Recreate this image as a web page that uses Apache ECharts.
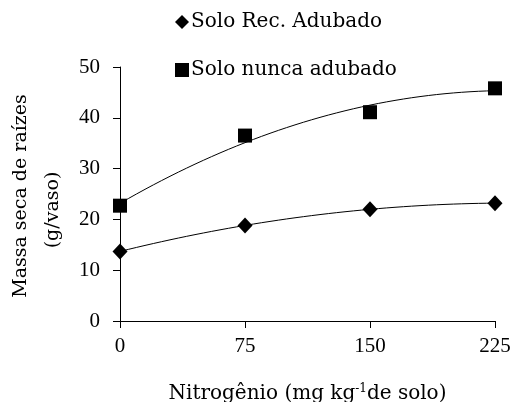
<!DOCTYPE html>
<html>
<head>
<meta charset="utf-8">
<script src="https://cdn.jsdelivr.net/npm/echarts@6/dist/echarts.min.js"></script>
<style>
  html, body { margin: 0; padding: 0; background: #fff; }
  #chart { width: 515px; height: 402px; }
</style>
</head>
<body>
<div id="chart"></div>
<script>
// dados
const doses = [0, 75, 150, 225]
const soloRec = [13.7, 18.8, 22.0, 23.2]
const soloNunca = [22.7, 36.5, 41.1, 45.8]
const yTicks = [0, 10, 20, 30, 40, 50]
const xTicks = [0, 75, 150, 225]

const FONT = 'DejaVu Serif'
const NUM_FONT = 'Liberation Serif'

// linha de tendência polinomial (grau 2), ajustada por mínimos quadrados
function polyFit2(xs, ys) {
  let s = [0, 0, 0, 0, 0], t = [0, 0, 0]
  xs.forEach((x, i) => {
    for (let k = 0; k < 5; k++) s[k] += Math.pow(x, k)
    for (let k = 0; k < 3; k++) t[k] += Math.pow(x, k) * ys[i]
  })
  const m = [[s[0], s[1], s[2], t[0]], [s[1], s[2], s[3], t[1]], [s[2], s[3], s[4], t[2]]]
  for (let c = 0; c < 3; c++) {
    for (let r = c + 1; r < 3; r++) {
      const f = m[r][c] / m[c][c]
      for (let k = c; k < 4; k++) m[r][k] -= f * m[c][k]
    }
  }
  const a = [0, 0, 0]
  for (let r = 2; r >= 0; r--) {
    let v = m[r][3]
    for (let k = r + 1; k < 3; k++) v -= m[r][k] * a[k]
    a[r] = v / m[r][r]
  }
  return x => a[0] + a[1] * x + a[2] * x * x
}

function trend(ys) {
  const f = polyFit2(doses, ys)
  const out = []
  for (let x = doses[0]; x <= doses[doses.length - 1]; x += 5) out.push([x, f(x)])
  return out
}

const chart = echarts.init(document.getElementById('chart'))
chart.setOption({
  animation: false,
  textStyle: { fontFamily: FONT, color: '#000' },
  grid: { left: 120, right: 20, top: 67, bottom: 81, containLabel: false, outerBoundsMode: 'none' },
  legend: {
    orient: 'vertical',
    left: 170,
    top: 7,
    itemGap: 28,
    itemWidth: 14,
    itemHeight: 14,
    textStyle: { fontFamily: FONT, fontSize: 20, color: '#000', padding: [0, 0, 0, -3] },
    data: [
      { name: 'Solo Rec. Adubado', icon: 'diamond' },
      { name: 'Solo nunca adubado', icon: 'rect' }
    ]
  },
  xAxis: {
    type: 'value',
    min: 0,
    max: 225,
    interval: 75,
    splitLine: { show: false },
    axisLine: { lineStyle: { color: '#000', width: 1 } },
    axisTick: { show: true, length: 7, lineStyle: { color: '#000' } },
    axisLabel: { fontFamily: NUM_FONT, fontSize: 21, color: '#000', margin: 15, customValues: xTicks },
    name: '{a|Nitrogênio (mg kg}{s|-1}{a|de solo)}',
    nameLocation: 'middle',
    nameGap: 62,
    nameTextStyle: {
      rich: {
        a: { fontFamily: FONT, fontSize: 20, color: '#000' },
        s: { fontFamily: FONT, fontSize: 12, color: '#000', verticalAlign: 'top', padding: [0, 0, 9, 0] }
      }
    }
  },
  yAxis: {
    type: 'value',
    min: 0,
    max: 50,
    interval: 10,
    splitLine: { show: false },
    axisLine: { show: true, lineStyle: { color: '#000', width: 1 } },
    axisTick: { show: true, length: 7, lineStyle: { color: '#000' } },
    axisLabel: { fontFamily: NUM_FONT, fontSize: 21, color: '#000', margin: 20, customValues: yTicks }
  },
  graphic: [
    {
      type: 'text', x: 21, y: 196, rotation: Math.PI / 2,
      style: { text: 'Massa seca de raízes', font: '19px "DejaVu Serif"', fill: '#000', align: 'center', verticalAlign: 'middle' }
    },
    {
      type: 'text', x: 53, y: 210, rotation: Math.PI / 2,
      style: { text: '(g/vaso)', font: '19px "DejaVu Serif"', fill: '#000', align: 'center', verticalAlign: 'middle' }
    }
  ],
  series: [
    {
      type: 'line', data: trend(soloRec), showSymbol: false, silent: true,
      lineStyle: { color: '#000', width: 1 }, z: 1
    },
    {
      type: 'line', data: trend(soloNunca), showSymbol: false, silent: true,
      lineStyle: { color: '#000', width: 1 }, z: 1
    },
    {
      name: 'Solo Rec. Adubado', type: 'scatter', symbol: 'diamond', symbolSize: [15, 16],
      itemStyle: { color: '#000', opacity: 1 }, z: 3,
      data: doses.map((d, i) => [d, soloRec[i]])
    },
    {
      name: 'Solo nunca adubado', type: 'scatter', symbol: 'rect', symbolSize: 14,
      itemStyle: { color: '#000', opacity: 1 }, z: 3,
      data: doses.map((d, i) => [d, soloNunca[i]])
    }
  ]
})
</script>
</body>
</html>
